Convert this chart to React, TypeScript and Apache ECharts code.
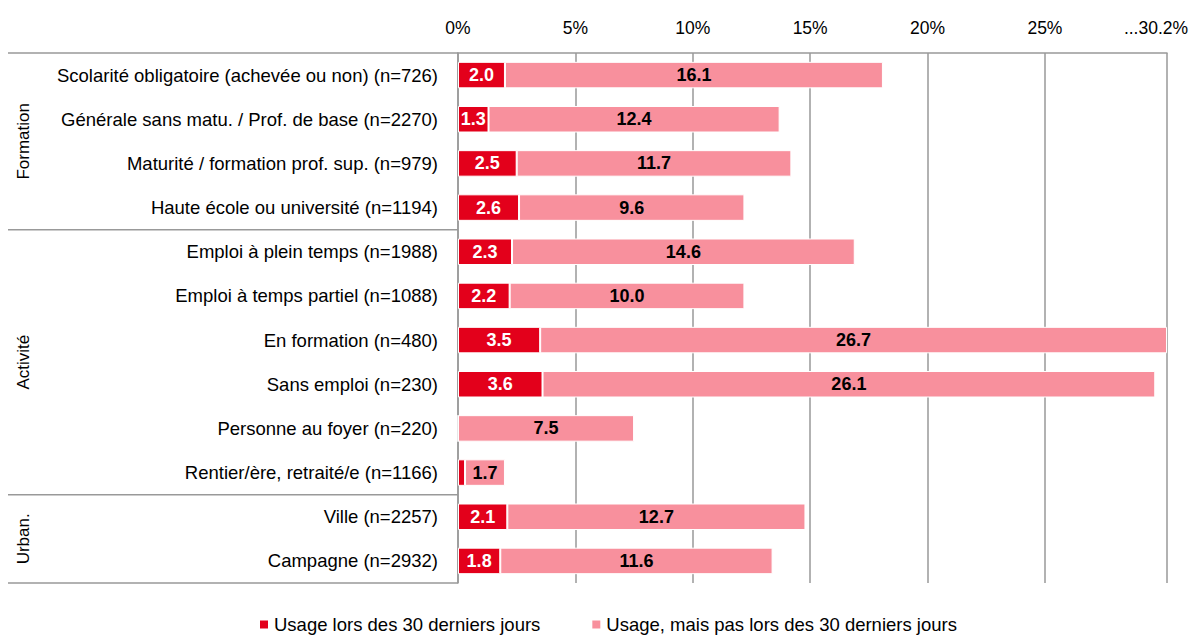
import React, { useEffect, useRef } from "react";
import * as echarts from "echarts";

const categories = [
  "Scolarité obligatoire (achevée ou non) (n=726)",
  "Générale sans matu. / Prof. de base (n=2270)",
  "Maturité / formation prof. sup. (n=979)",
  "Haute école ou université (n=1194)",
  "Emploi à plein temps (n=1988)",
  "Emploi à temps partiel (n=1088)",
  "En formation (n=480)",
  "Sans emploi (n=230)",
  "Personne au foyer (n=220)",
  "Rentier/ère, retraité/e (n=1166)",
  "Ville (n=2257)",
  "Campagne (n=2932)",
];
const last30 = [2.0, 1.3, 2.5, 2.6, 2.3, 2.2, 3.5, 3.6, 0, 0.3, 2.1, 1.8];
const notLast30 = [16.1, 12.4, 11.7, 9.6, 14.6, 10.0, 26.7, 26.1, 7.5, 1.7, 12.7, 11.6];
const seriesNames = ["Usage lors des 30 derniers jours", "Usage, mais pas lors des 30 derniers jours"];
const tickValues = [0, 5, 10, 15, 20, 25, 30.2];
const groups = [
  { name: "Formation", start: 0, end: 4 },
  { name: "Activité", start: 4, end: 10 },
  { name: "Urban.", start: 10, end: 12 },
];

const FONT = "'Liberation Sans', Arial, sans-serif";
const W = 1189;
const H = 637;
const GRID = { left: 458, right: 22, top: 53, bottom: 54 };

export default function App() {
  const ref = useRef<HTMLDivElement>(null);
  useEffect(() => {
    if (!ref.current) return;
    const chart = echarts.init(ref.current, null, { renderer: "svg" });
    const plotH = H - GRID.top - GRID.bottom;
    const rowH = plotH / categories.length;
    const lineColor = "#999999";
    const graphics: any[] = [];
    graphics.push({
      type: "line",
      shape: { x1: 8, y1: GRID.top, x2: GRID.left, y2: GRID.top },
      style: { stroke: lineColor, lineWidth: 1.5 },
    });
    groups.forEach((g) => {
      const yEnd = GRID.top + g.end * rowH;
      const yMid = GRID.top + ((g.start + g.end) / 2) * rowH;
      graphics.push({
        type: "line",
        shape: { x1: 8, y1: yEnd, x2: GRID.left, y2: yEnd },
        style: { stroke: lineColor, lineWidth: 1.5 },
      });
      graphics.push({
        type: "text",
        x: 23,
        y: yMid,
        rotation: Math.PI / 2,
        style: {
          text: g.name,
          font: `17px ${FONT}`,
          fill: "#000",
          align: "center",
          verticalAlign: "middle",
        },
      });
    });

    chart.setOption({
      animation: false,
      textStyle: { fontFamily: FONT },
      grid: { ...GRID, containLabel: false, outerBoundsMode: "none" },
      legend: {
        top: 610,
        left: 253,
        icon: "rect",
        itemWidth: 10,
        itemHeight: 10,
        itemGap: 50,
        textStyle: { fontSize: 18.5, color: "#000", fontFamily: FONT },
        data: seriesNames,
      },
      xAxis: {
        type: "value",
        position: "top",
        min: 0,
        max: 30.2,
        axisLine: { show: true, lineStyle: { color: lineColor, width: 1.5 } },
        axisTick: { show: false, customValues: tickValues },
        axisLabel: {
          customValues: tickValues,
          margin: 16,
          fontSize: 17.5,
          color: "#000",
          fontFamily: FONT,
          formatter: (v: number) => (v === 30.2 ? "{a|...30.2%}{b|}" : `${v}%`),
          rich: {
            a: { fontSize: 17.5, color: "#000", fontFamily: FONT },
            b: { width: 22 },
          },
        },
        splitLine: { show: true, lineStyle: { color: lineColor, width: 1.5 } },
      },
      yAxis: {
        type: "category",
        inverse: true,
        data: categories,
        axisLine: { show: true, lineStyle: { color: lineColor, width: 1.5 } },
        axisTick: { show: false },
        axisLabel: { fontSize: 18.5, color: "#000", margin: 20, fontFamily: FONT },
      },
      graphic: graphics,
      series: [
        {
          name: seriesNames[0],
          type: "bar",
          stack: "total",
          barCategoryGap: "40%",
          data: last30,
          itemStyle: { color: "#E3001B", borderColor: "#fff", borderWidth: 1 },
          label: {
            show: true,
            position: "inside",
            color: "#fff",
            fontWeight: "bold",
            fontSize: 18,
            fontFamily: FONT,
            formatter: (p: any) => (p.value >= 1 ? p.value.toFixed(1) : ""),
          },
          z: 3,
        },
        {
          name: seriesNames[1],
          type: "bar",
          stack: "total",
          barCategoryGap: "40%",
          data: notLast30,
          itemStyle: { color: "#F8909D", borderColor: "#fff", borderWidth: 1 },
          label: {
            show: true,
            position: "inside",
            color: "#000",
            fontWeight: "bold",
            fontSize: 18,
            fontFamily: FONT,
            formatter: (p: any) => p.value.toFixed(1),
          },
          z: 3,
        },
      ],
    });
    return () => chart.dispose();
  }, []);
  return (
    <div
      ref={ref}
      style={{ position: "absolute", left: 0, top: 0, width: W, height: H, background: "#fff" }}
    />
  );
}
